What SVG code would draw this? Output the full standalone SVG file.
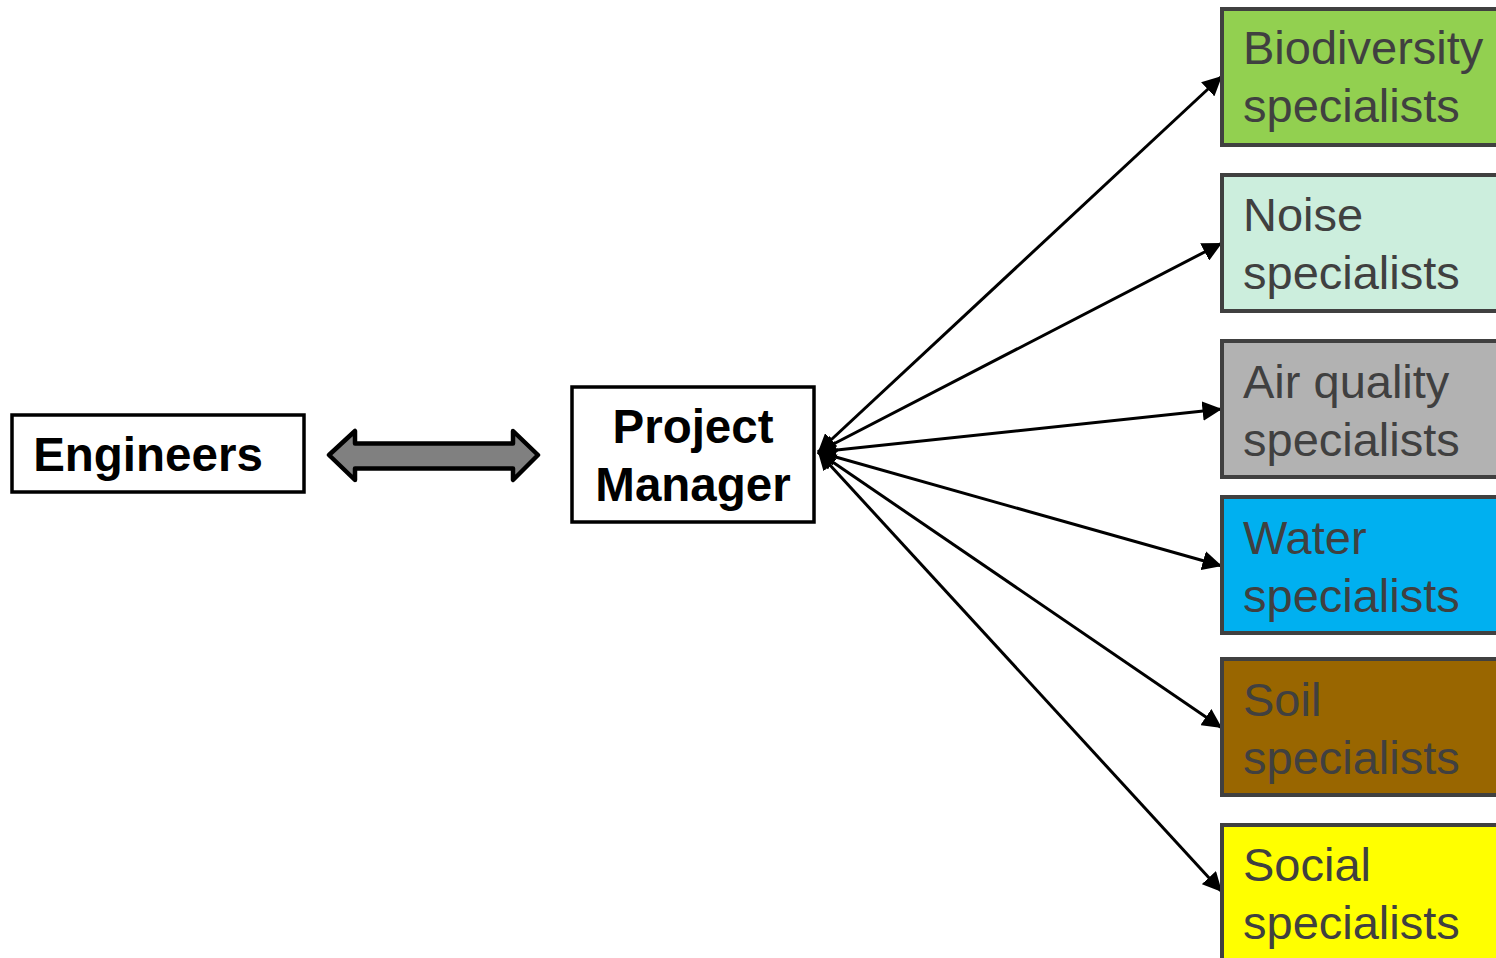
<svg xmlns="http://www.w3.org/2000/svg" width="1496" height="958" viewBox="0 0 1496 958">
<defs>
<style>
.spec{stroke:#404040;stroke-width:4}
.st{font-family:"Liberation Sans",Arial,sans-serif;font-size:47px;fill:#404040}
.bt{font-family:"Liberation Sans",Arial,sans-serif;font-size:47.5px;font-weight:bold;fill:#000;text-anchor:middle}
.conn{stroke:#000;stroke-width:3;fill:none;marker-end:url(#ah);marker-start:url(#as)}
</style>
<marker id="ah" viewBox="0 0 10 10" refX="10" refY="5" markerWidth="6.5" markerHeight="6.5" orient="auto" markerUnits="strokeWidth"><path d="M0,0 L10,5 L0,10 z" fill="#000"/></marker>
<marker id="as" viewBox="0 0 10 10" refX="0" refY="5" markerWidth="6" markerHeight="6" orient="auto" markerUnits="strokeWidth"><path d="M10,0 L0,5 L10,10 z" fill="#000"/></marker>
</defs>
<rect width="1496" height="958" fill="#fff"/>
<g id="connectors">
<line class="conn" x1="818" y1="452" x2="1222" y2="76"/>
<line class="conn" x1="818" y1="452" x2="1222" y2="243"/>
<line class="conn" x1="818" y1="452" x2="1222" y2="409"/>
<line class="conn" x1="818" y1="452" x2="1222" y2="566"/>
<line class="conn" x1="818" y1="452" x2="1222" y2="728"/>
<line class="conn" x1="818" y1="452" x2="1222" y2="892"/>
<path id="double-arrow" d="M329,455 L355,431 L355,443.5 L513,443.5 L513,431 L538,455 L513,480 L513,468.5 L355,468.5 L355,480 Z" fill="#808080" stroke="#000" stroke-width="4.5" stroke-linejoin="round"/>
</g>
<g id="engineers">
<rect x="12" y="415" width="292" height="77" fill="#fff" stroke="#000" stroke-width="3.5"/>
<text class="bt" x="148" y="471">Engineers</text>
</g>
<g id="project-manager">
<rect x="572" y="387" width="242" height="135" fill="#fff" stroke="#000" stroke-width="3.5"/>
<text class="bt" x="693" y="443">Project</text>
<text class="bt" x="693" y="501">Manager</text>
</g>
<g id="biodiversity">
<rect class="spec" x="1222" y="9" width="290" height="136" fill="#92D050"/>
<text class="st" x="1243" y="64">Biodiversity</text>
<text class="st" x="1243" y="122">specialists</text>
</g>
<g id="noise">
<rect class="spec" x="1222" y="175" width="290" height="136" fill="#CCEEDD"/>
<text class="st" x="1243" y="231">Noise</text>
<text class="st" x="1243" y="289">specialists</text>
</g>
<g id="air">
<rect class="spec" x="1222" y="341" width="290" height="136" fill="#B2B2B2"/>
<text class="st" x="1243" y="398">Air quality</text>
<text class="st" x="1243" y="456">specialists</text>
</g>
<g id="water">
<rect class="spec" x="1222" y="497" width="290" height="136" fill="#00B0F0"/>
<text class="st" x="1243" y="554">Water</text>
<text class="st" x="1243" y="612">specialists</text>
</g>
<g id="soil">
<rect class="spec" x="1222" y="659" width="290" height="136" fill="#996600"/>
<text class="st" x="1243" y="716">Soil</text>
<text class="st" x="1243" y="774">specialists</text>
</g>
<g id="social">
<rect class="spec" x="1222" y="825" width="290" height="150" fill="#FFFF00"/>
<text class="st" x="1243" y="881">Social</text>
<text class="st" x="1243" y="939">specialists</text>
</g>
</svg>
